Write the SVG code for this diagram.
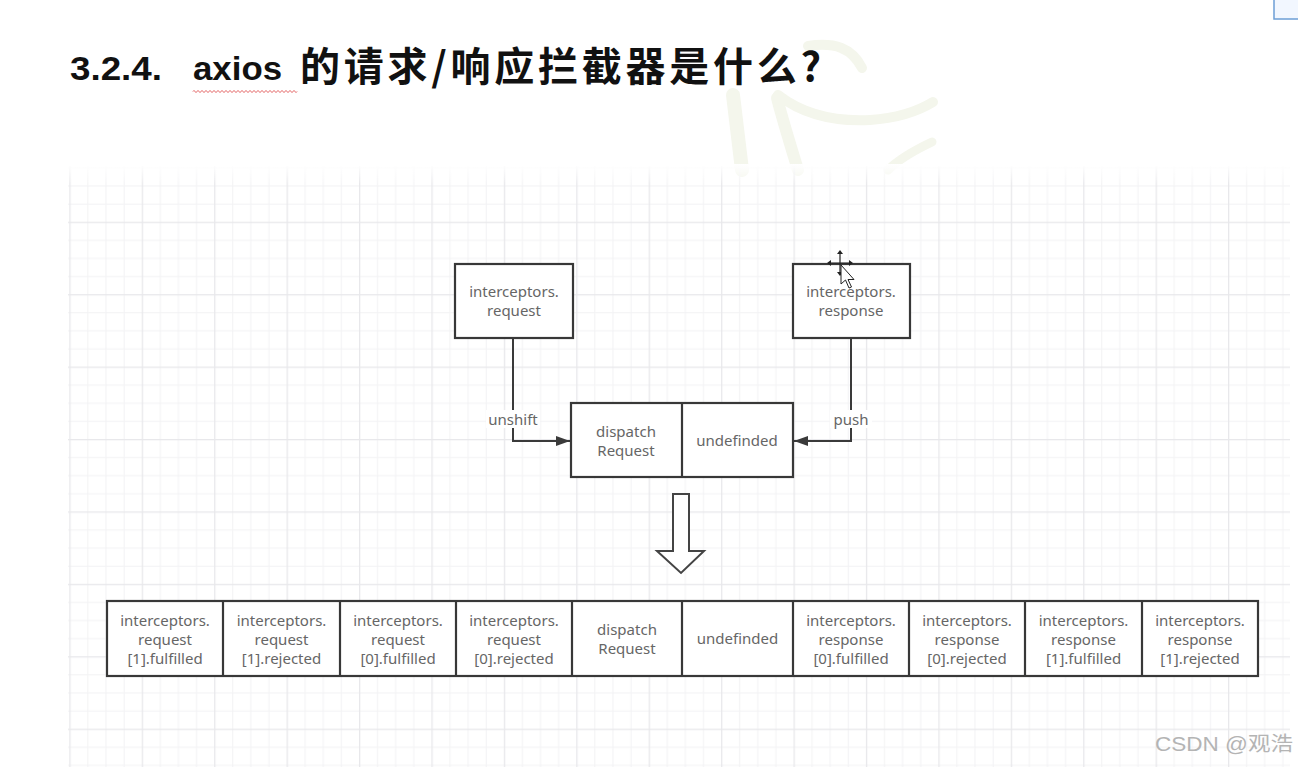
<svg xmlns="http://www.w3.org/2000/svg" width="1298" height="767" viewBox="0 0 1298 767">
  <defs>
    <style>
      .title { font-family: "Liberation Sans", "Noto Sans CJK SC", sans-serif; font-weight: bold; font-size: 34px; fill: #111; }
      .titlecjk { font-family: "Noto Sans CJK SC", sans-serif; font-weight: bold; font-size: 40px; fill: #111; }
      .box { fill: #ffffff; stroke: #383838; stroke-width: 2.2; }
      .div { stroke: #383838; stroke-width: 2.2; fill: none; }
      .lbl { font-family: "Noto Sans", "Liberation Sans", sans-serif; font-size: 15px; fill: #666666; text-anchor: middle; }
      .conn { stroke: #3a3a3a; stroke-width: 2; fill: none; }
      .wm { font-family: "Liberation Sans", "Noto Sans CJK SC", sans-serif; font-size: 20px; fill: #b4b4b4; }
      .logo { fill: none; stroke: #f4f6ec; stroke-linecap: round; }
    </style>
    <pattern id="grid" patternUnits="userSpaceOnUse" x="69.3" y="149.3" width="72.42" height="72.42">
      <rect x="18.1" y="0" width="1" height="72.42" fill="#f2f2f4"/>
      <rect x="36.2" y="0" width="1" height="72.42" fill="#f2f2f4"/>
      <rect x="54.3" y="0" width="1" height="72.42" fill="#f2f2f4"/>
      <rect x="0" y="18.1" width="72.42" height="1" fill="#f2f2f4"/>
      <rect x="0" y="36.2" width="72.42" height="1" fill="#f2f2f4"/>
      <rect x="0" y="54.3" width="72.42" height="1" fill="#f2f2f4"/>
      <rect x="0" y="0" width="1.3" height="72.42" fill="#e8e8eb"/>
      <rect x="0" y="0" width="72.42" height="1.3" fill="#e8e8eb"/>
    </pattern>
    <linearGradient id="fadeTop" x1="0" y1="0" x2="0" y2="1">
      <stop offset="0" stop-color="#ffffff" stop-opacity="1"/>
      <stop offset="1" stop-color="#ffffff" stop-opacity="0"/>
    </linearGradient>
    <marker id="arrow" viewBox="0 0 14 10" refX="14" refY="5" markerWidth="14" markerHeight="10" markerUnits="userSpaceOnUse" orient="auto">
      <path d="M0,0 L14,5 L0,10 Z" fill="#3a3a3a"/>
    </marker>
  </defs>

  <rect x="0" y="0" width="1298" height="767" fill="#ffffff"/>

  <!-- faint background logo watermark -->
  <g id="logo-watermark">
    <path class="logo" stroke-width="10" d="M808,46 C835,42 852,48 862,68"/>
    <path class="logo" stroke-width="14" d="M733,95 C736,120 739,145 742,170"/>
    <path class="logo" stroke-width="12" d="M777,98 C784,125 792,150 798,170"/>
    <path class="logo" stroke-width="10" d="M778,95 C800,112 830,122 870,120 C900,118 920,110 933,102"/>
    <path class="logo" stroke-width="9" d="M932,142 C915,150 898,160 888,170"/>
  </g>

  <!-- top right corner element -->
  <rect x="1274" y="-2" width="30" height="21" fill="#f2f7ff" stroke="#6d9fd6" stroke-width="1.5"/>

  <!-- title -->
  <g id="title">
    <text class="title" x="70" y="80" textLength="92" lengthAdjust="spacingAndGlyphs">3.2.4.</text>
    <text class="title" x="193" y="80" textLength="89" lengthAdjust="spacingAndGlyphs">axios</text>
    <text class="titlecjk" x="300" y="81" textLength="521" lengthAdjust="spacing">的请求/响应拦截器是什么?</text>
    <path d="M193,91.5 q1,-2 2,0 t2,0 t2,0 t2,0 t2,0 t2,0 t2,0 t2,0 t2,0 t2,0 t2,0 t2,0 t2,0 t2,0 t2,0 t2,0 t2,0 t2,0 t2,0 t2,0 t2,0 t2,0 t2,0 t2,0 t2,0 t2,0 t2,0 t2,0 t2,0 t2,0 t2,0 t2,0 t2,0 t2,0 t2,0 t2,0 t2,0 t2,0 t2,0 t2,0 t2,0 t2,0 t2,0 t2,0 t2,0 t2,0 t2,0 t2,0 t2,0 t2,0 t2,0 t2,0" fill="none" stroke="#e05050" stroke-width="1"/>
  </g>

  <!-- grid background -->
  <rect x="68" y="166" width="1222" height="601" fill="url(#grid)"/>
  <rect x="68" y="164" width="1222" height="20" fill="url(#fadeTop)"/>

  <!-- connectors -->
  <g id="connectors">
    <path class="conn" d="M513,338 L513,441 L570,441" marker-end="url(#arrow)"/>
    <path class="conn" d="M851,338 L851,441 L794,441" marker-end="url(#arrow)"/>
    <rect x="486" y="410" width="54" height="18" fill="#ffffff"/>
    <rect x="830" y="410" width="42" height="18" fill="#ffffff"/>
    <text class="lbl" x="513" y="425">unshift</text>
    <text class="lbl" x="851" y="425">push</text>
    <polygon points="673,494 689,494 689,551 704,551 681,573 657,551 673,551" fill="#ffffff" stroke="#444" stroke-width="2" stroke-linejoin="miter"/>
  </g>

  <!-- top nodes -->
  <g id="node-interceptors-request">
    <rect class="box" x="455" y="264" width="118" height="74"/>
    <text class="lbl" x="514" y="297">interceptors.</text>
    <text class="lbl" x="514" y="316">request</text>
  </g>
  <g id="node-interceptors-response">
    <rect class="box" x="793" y="264" width="117" height="74"/>
    <text class="lbl" x="851" y="297">interceptors.</text>
    <text class="lbl" x="851" y="316">response</text>
  </g>

  <!-- middle node -->
  <g id="node-middle">
    <rect class="box" x="571" y="403" width="222" height="74"/>
    <line class="div" x1="682" y1="403" x2="682" y2="477"/>
    <text class="lbl" x="626" y="437">dispatch</text>
    <text class="lbl" x="626" y="456">Request</text>
    <text class="lbl" x="737" y="446">undefinded</text>
  </g>

  <!-- bottom chain -->
  <g id="node-chain">
    <rect class="box" x="107" y="601" width="1151" height="75" stroke-width="2.6"/>
    <line class="div" x1="223" y1="601" x2="223" y2="676"/>
    <line class="div" x1="340" y1="601" x2="340" y2="676"/>
    <line class="div" x1="456" y1="601" x2="456" y2="676"/>
    <line class="div" x1="572" y1="601" x2="572" y2="676"/>
    <line class="div" x1="682" y1="601" x2="682" y2="676"/>
    <line class="div" x1="793" y1="601" x2="793" y2="676"/>
    <line class="div" x1="909" y1="601" x2="909" y2="676"/>
    <line class="div" x1="1025" y1="601" x2="1025" y2="676"/>
    <line class="div" x1="1142" y1="601" x2="1142" y2="676"/>

    <g id="cell-req1-fulfilled">
      <text class="lbl" x="165" y="626">interceptors.</text>
      <text class="lbl" x="165" y="645">request</text>
      <text class="lbl" x="165" y="664">[1].fulfilled</text>
    </g>
    <g id="cell-req1-rejected">
      <text class="lbl" x="281.5" y="626">interceptors.</text>
      <text class="lbl" x="281.5" y="645">request</text>
      <text class="lbl" x="281.5" y="664">[1].rejected</text>
    </g>
    <g id="cell-req0-fulfilled">
      <text class="lbl" x="398" y="626">interceptors.</text>
      <text class="lbl" x="398" y="645">request</text>
      <text class="lbl" x="398" y="664">[0].fulfilled</text>
    </g>
    <g id="cell-req0-rejected">
      <text class="lbl" x="514" y="626">interceptors.</text>
      <text class="lbl" x="514" y="645">request</text>
      <text class="lbl" x="514" y="664">[0].rejected</text>
    </g>
    <g id="cell-dispatch">
      <text class="lbl" x="627" y="635">dispatch</text>
      <text class="lbl" x="627" y="654">Request</text>
    </g>
    <g id="cell-undefinded">
      <text class="lbl" x="737.5" y="644">undefinded</text>
    </g>
    <g id="cell-res0-fulfilled">
      <text class="lbl" x="851" y="626">interceptors.</text>
      <text class="lbl" x="851" y="645">response</text>
      <text class="lbl" x="851" y="664">[0].fulfilled</text>
    </g>
    <g id="cell-res0-rejected">
      <text class="lbl" x="967" y="626">interceptors.</text>
      <text class="lbl" x="967" y="645">response</text>
      <text class="lbl" x="967" y="664">[0].rejected</text>
    </g>
    <g id="cell-res1-fulfilled">
      <text class="lbl" x="1083.5" y="626">interceptors.</text>
      <text class="lbl" x="1083.5" y="645">response</text>
      <text class="lbl" x="1083.5" y="664">[1].fulfilled</text>
    </g>
    <g id="cell-res1-rejected">
      <text class="lbl" x="1200" y="626">interceptors.</text>
      <text class="lbl" x="1200" y="645">response</text>
      <text class="lbl" x="1200" y="664">[1].rejected</text>
    </g>
  </g>

  <!-- mouse cursor -->
  <g id="cursor">
    <path d="M840,252 L840,274 M829,263 L851,263" stroke="#222" stroke-width="1.2"/>
    <path d="M840,250 l-3,4 h6 Z M840,276 l-3,-4 h6 Z M827,263 l4,-3 v6 Z M853,263 l-4,-3 v6 Z" fill="#222"/>
    <path d="M841,265 L841,284 L845.5,280 L849,288 L851.5,287 L848,279.5 L854,279.5 Z" fill="#ffffff" stroke="#222" stroke-width="1"/>
  </g>

  <!-- CSDN watermark -->
  <text class="wm" x="1155" y="751" textLength="138" lengthAdjust="spacingAndGlyphs">CSDN @观浩</text>
</svg>
